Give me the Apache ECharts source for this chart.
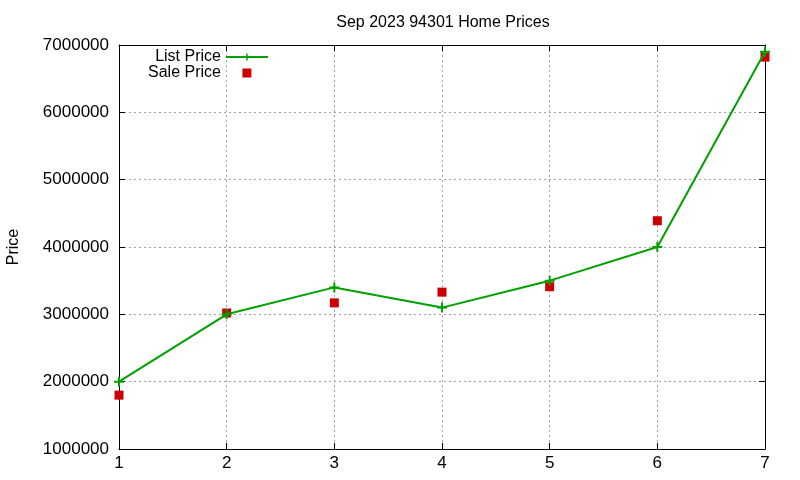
<!DOCTYPE html>
<html>
<head>
<meta charset="utf-8">
<script src="https://cdn.jsdelivr.net/npm/echarts@6/dist/echarts.min.js"></script>
<style>html,body{margin:0;padding:0;background:#fff}#c{width:800px;height:480px}</style>
</head>
<body>
<div id="c"></div>
<script>
const titleText = 'Sep 2023 94301 Home Prices';
const xValues = [1, 2, 3, 4, 5, 6, 7];
const listPrice = [2000000, 3000000, 3400000, 3100000, 3500000, 4000000, 6900000];
const salePrice = [1800000, 3020000, 3170000, 3330000, 3410000, 4390000, 6820000];
const yMin = 1000000, yMax = 7000000, yStep = 1000000;

const FONT = 'Liberation Sans';
const GREEN = '#00a000';
const RED = '#cc0000';
const plusPath = 'path://M4,0H6V4H10V6H6V10H4V6H0V4H4Z';
const squarePath = 'path://M0,0H10V10H0Z';

const chart = echarts.init(document.getElementById('c'), null, {renderer: 'canvas'});
const gridLine = {show: true, lineStyle: {color: '#a0a0a0', type: [2, 3], width: 1}};
const tick = {show: true, inside: true, length: 6, lineStyle: {color: '#000'}};
const axisLine = {show: true, lineStyle: {color: '#000', width: 1}};
chart.setOption({
  animation: false,
  backgroundColor: '#fff',
  textStyle: {fontFamily: FONT},
  title: {text: titleText, left: 438, top: 10, textAlign: 'center',
    textStyle: {fontFamily: FONT, fontSize: 16, fontWeight: 'normal', color: '#000'}},
  grid: {left: 119, right: 35, top: 45, bottom: 31, outerBoundsMode: 'none', containLabel: false},
  legend: {
    orient: 'vertical', align: 'right', left: 143, top: 44,
    itemWidth: 42, itemHeight: 9, itemGap: 0, symbolKeepAspect: true,
    textStyle: {fontFamily: FONT, fontSize: 16, color: '#000', lineHeight: 14},
    data: [{name: 'List Price'}, {name: 'Sale Price', icon: squarePath}]
  },
  xAxis: [{
    type: 'value', min: 1, max: 7, interval: 1, position: 'bottom',
    axisLine, axisTick: tick, splitLine: gridLine,
    axisLabel: {fontFamily: FONT, fontSize: 17, color: '#000', margin: 6}
  }, {
    type: 'value', min: 1, max: 7, interval: 1, position: 'top',
    axisLine, axisTick: tick, splitLine: {show: false}, axisLabel: {show: false}
  }],
  yAxis: [{
    type: 'value', min: yMin, max: yMax, interval: yStep, position: 'left',
    name: 'Price', nameLocation: 'middle', nameGap: 97, nameRotate: 90,
    nameTextStyle: {fontFamily: FONT, fontSize: 16, color: '#000'},
    axisLine, axisTick: tick, splitLine: gridLine,
    axisLabel: {fontFamily: FONT, fontSize: 17, color: '#000', margin: 10, formatter: v => String(v)}
  }, {
    type: 'value', min: yMin, max: yMax, interval: yStep, position: 'right',
    axisLine, axisTick: tick, splitLine: {show: false}, axisLabel: {show: false}
  }],
  series: [{
    name: 'List Price', type: 'line',
    data: xValues.map((x, i) => [x, listPrice[i]]),
    symbol: plusPath, symbolSize: 10, showSymbol: true,
    lineStyle: {color: GREEN, width: 2},
    itemStyle: {color: GREEN, opacity: 1},
    z: 3
  }, {
    name: 'Sale Price', type: 'scatter',
    data: xValues.map((x, i) => [x, salePrice[i]]),
    symbol: 'rect', symbolSize: 9,
    itemStyle: {color: RED, opacity: 1},
    z: 2
  }]
});
</script>
</body>
</html>
